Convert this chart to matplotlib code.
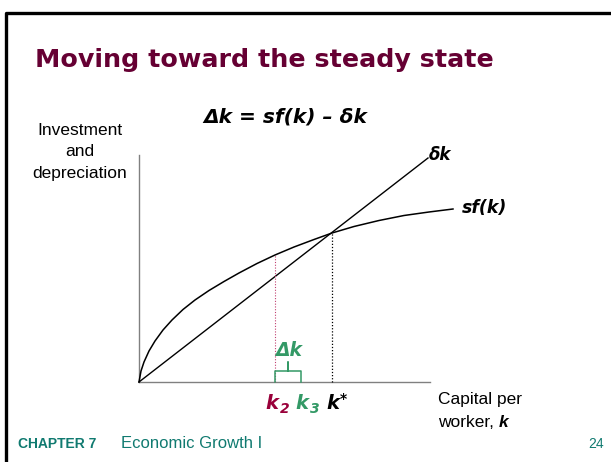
import matplotlib
matplotlib.use("Agg")
import matplotlib.pyplot as plt

# values (one unit = one pixel, origin at the axes corner)
k_sf = [0, 2, 5, 10, 16, 24, 33, 44, 56, 70, 85, 100, 118, 136, 155, 175, 193, 215, 240, 265, 290, 314]
sf_vals = [0, 11, 20, 31, 41, 52, 62, 72.5, 82, 91.5, 100.5, 109, 118.5, 127, 135, 142.5, 149, 155.5, 161.5, 166.5, 170, 173]
k_dep = [0, 289]
dep_vals = [0, 224]
k2, k3, k_star = 136, 162, 193
sf_k2, sf_star = 127, 149
x_axis_end, y_axis_end = 291, 227

maroon = "#660033"
teal = "#107a70"
green = "#339966"
red = "#99003a"

plt.rcParams['font.family'] = ['Liberation Sans', 'DejaVu Sans']
dv = "DejaVu Sans"

fig = plt.figure(figsize=(6.11, 4.62), dpi=100)
ax = fig.add_axes([0, 0, 1, 1])
ax.set_xlim(-139, 472)
ax.set_ylim(-80, 382)
ax.axis("off")

# slide frame
fig.add_artist(plt.Line2D([6 / 611, 6 / 611, 1], [0, 1 - 13 / 462, 1 - 13 / 462],
                          color="black", lw=2.4, transform=fig.transFigure))

# axes
ax.plot([0, 0], [0, y_axis_end], color="#808080", lw=1)
ax.plot([0, x_axis_end], [0, 0], color="#808080", lw=1)

# curves
ax.plot(k_dep, dep_vals, color="black", lw=1)
ax.plot(k_sf, sf_vals, color="black", lw=1.1)

# guide lines
ax.plot([k2, k2], [0, sf_k2], color="#c04070", lw=0.8, ls=(0, (1, 1.5)))
ax.plot([k_star, k_star], [0, sf_star], color="black", lw=0.9, ls=(0, (1, 1.5)))

# brace for delta k
mid = (k2 + k3) / 2
ax.plot([k2, k2, mid, mid, mid, k3, k3], [0, 11, 11, 20, 11, 11, 0], color=green, lw=1.1)
ax.text(mid + 1, 22, "Δk", color=green, fontsize=13.5, ha="center", va="bottom",
        fontweight="bold", style="italic", family=dv)

# curve labels
ax.text(290, 227, "δk", fontsize=12, fontweight="bold", style="italic", ha="left", va="center", family=dv)
ax.text(323, 174, "sf(k)", fontsize=12.5, fontweight="bold", style="italic", ha="left", va="center", family=dv)

# tick labels on the k axis
ax.text(k2 - 3, -12, "k", color=red, fontsize=14, fontweight="bold", style="italic", ha="center", va="top", family=dv)
ax.text(k2 + 5, -20, "2", color=red, fontsize=10, fontweight="bold", style="italic", ha="left", va="top", family=dv)
ax.text(k3 + 1, -12, "k", color=green, fontsize=14, fontweight="bold", style="italic", ha="center", va="top", family=dv)
ax.text(k3 + 9, -20, "3", color=green, fontsize=10, fontweight="bold", style="italic", ha="left", va="top", family=dv)
ax.text(k_star + 1, -12, "k", color="black", fontsize=14, fontweight="bold", style="italic", ha="center", va="top", family=dv)
ax.text(k_star + 8, -10, "*", color="black", fontsize=10, fontweight="bold", ha="left", va="top", family=dv)

# axis titles
ax.text(-59, 230, "Investment\nand\ndepreciation", fontsize=12.5, ha="center", va="center",
        linespacing=1.55)
ax.text(299, -10, "Capital per", fontsize=12.5, ha="left", va="top")
w = ax.text(299, -33, "worker, ", fontsize=12.5, ha="left", va="top")
ax.annotate("k", xy=(1, 0), xycoords=w, fontsize=12.5, ha="left", va="bottom",
            fontweight="bold", style="italic")

# slide title and equation
fig.text(35 / 611, 1 - 60 / 462, "Moving toward the steady state", fontsize=18.3,
         fontweight="bold", color=maroon, ha="left", va="center", family=dv)
fig.text(285 / 611, 1 - 117 / 462, "Δk = sf(k) – δk", fontsize=14.5, fontweight="bold",
         style="italic", ha="center", va="center", family=dv)

# footer
fig.text(18 / 611, 1 - 444 / 462, "CHAPTER 7", fontsize=10, fontweight="bold", color=teal,
         ha="left", va="center")
fig.text(121 / 611, 1 - 444 / 462, "Economic Growth I", fontsize=12, color=teal,
         ha="left", va="center")
fig.text(604 / 611, 1 - 444 / 462, "24", fontsize=10, color=teal, ha="right", va="center")

fig.savefig("out.png", dpi=100)
